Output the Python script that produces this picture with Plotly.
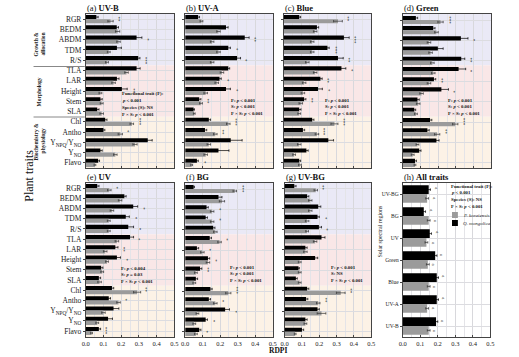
import plotly.graph_objects as go

W, H = 519, 357
def fx(x): return x / W
def fy(y): return 1 - y / H

traits = ["RGR", "BEDM", "ABDM", "TDM", "R/S", "TLA", "LAR", "Height", "Stem", "SLA",
          "Chl", "Antho", "Y<sub>NPQ</sub>/Y<sub>NO</sub>", "Y<sub>NO</sub>", "Flavo"]
regions = ["UV-BG", "BG", "UV", "Green", "Blue", "UV-A", "UV-B"]
x_ticks = [0.0, 0.1, 0.2, 0.3, 0.4, 0.5]

# (a) UV-B
a_q = [0.06, 0.175, 0.287, 0.176, 0.296, 0.287, 0.176, 0.204, 0.083, 0.065, 0.11, 0.10, 0.35, 0.083, 0.07]
a_p = [0.14, 0.18, 0.185, 0.13, 0.12, 0.23, 0.157, 0.083, 0.09, 0.09, 0.26, 0.195, 0.278, 0.167, 0.052]
a_qe = [0.01, 0.01, 0.03, 0.025, 0.01, 0.02, 0.012, 0.03, 0.01, 0.01, 0.01, 0.008, 0.025, 0.01, 0.008]
a_pe = [0.015, 0.012, 0.01, 0.008, 0.008, 0.01, 0.01, 0.008, 0.008, 0.01, 0.01, 0.012, 0.012, 0.01, 0.005]
a_sig = ["**", "", "*", "", "***", "", "", "**", "", "", "***", "*", "", "", ""]
# (b) UV-A
b_q = [0.074, 0.233, 0.34, 0.246, 0.296, 0.246, 0.196, 0.233, 0.08, 0.048, 0.135, 0.113, 0.26, 0.19, 0.067]
b_p = [0.093, 0.19, 0.154, 0.19, 0.154, 0.21, 0.18, 0.117, 0.09, 0.052, 0.246, 0.172, 0.135, 0.117, 0.037]
b_qe = [0.008, 0.012, 0.025, 0.012, 0.02, 0.008, 0.01, 0.025, 0.01, 0.005, 0.01, 0.01, 0.065, 0.06, 0.008]
b_pe = [0.008, 0.01, 0.01, 0.01, 0.01, 0.01, 0.01, 0.01, 0.008, 0.005, 0.01, 0.01, 0.01, 0.01, 0.005]
b_sig = ["", "", "**", "*", "*", "", "*", "*", "**", "", "***", "**", "", "", "*"]
# (c) Blue
c_q = [0.089, 0.19, 0.344, 0.25, 0.31, 0.33, 0.21, 0.196, 0.117, 0.089, 0.163, 0.11, 0.255, 0.13, 0.089]
c_p = [0.31, 0.18, 0.163, 0.163, 0.135, 0.18, 0.117, 0.11, 0.098, 0.089, 0.29, 0.19, 0.089, 0.06, 0.093]
c_qe = [0.008, 0.01, 0.03, 0.01, 0.03, 0.025, 0.01, 0.025, 0.01, 0.01, 0.01, 0.01, 0.03, 0.01, 0.008]
c_pe = [0.025, 0.01, 0.01, 0.01, 0.01, 0.01, 0.01, 0.01, 0.01, 0.008, 0.02, 0.01, 0.01, 0.008, 0.008]
c_sig = ["**", "", "***", "***", "**", "*", "**", "*", "**", "", "***", "***", "", "", ""]
# (d) Green
d_q = [0.074, 0.172, 0.328, 0.198, 0.33, 0.315, 0.176, 0.218, 0.083, 0.065, 0.154, 0.139, 0.19, 0.093, 0.069]
d_p = [0.213, 0.19, 0.148, 0.157, 0.167, 0.172, 0.148, 0.106, 0.087, 0.074, 0.296, 0.194, 0.083, 0.056, 0.069]
d_qe = [0.01, 0.01, 0.04, 0.03, 0.02, 0.04, 0.01, 0.04, 0.01, 0.008, 0.01, 0.01, 0.015, 0.01, 0.008]
d_pe = [0.015, 0.01, 0.01, 0.01, 0.01, 0.01, 0.01, 0.01, 0.01, 0.008, 0.015, 0.015, 0.008, 0.008, 0.005]
d_sig = ["***", "", "*", "", "**", "*", "**", "*", "", "", "***", "**", "", "", ""]
# (e) UV
e_q = [0.065, 0.218, 0.268, 0.226, 0.24, 0.25, 0.167, 0.176, 0.087, 0.074, 0.148, 0.13, 0.157, 0.126, 0.074]
e_p = [0.133, 0.194, 0.148, 0.13, 0.13, 0.176, 0.11, 0.12, 0.093, 0.078, 0.29, 0.185, 0.10, 0.065, 0.033]
e_qe = [0.01, 0.01, 0.025, 0.02, 0.03, 0.02, 0.015, 0.02, 0.01, 0.01, 0.01, 0.01, 0.03, 0.025, 0.01]
e_pe = [0.01, 0.01, 0.01, 0.008, 0.008, 0.01, 0.01, 0.008, 0.008, 0.01, 0.02, 0.01, 0.01, 0.008, 0.005]
e_sig = ["*", "", "*", "*", "*", "*", "**", "*", "", "", "**", "*", "", "", "***"]
# (f) BG
f_q = [0.048, 0.19, 0.122, 0.117, 0.16, 0.14, 0.067, 0.13, 0.085, 0.061, 0.144, 0.135, 0.228, 0.117, 0.08]
f_p = [0.283, 0.21, 0.154, 0.154, 0.172, 0.196, 0.098, 0.13, 0.061, 0.052, 0.246, 0.172, 0.07, 0.052, 0.061]
f_qe = [0.005, 0.02, 0.01, 0.01, 0.01, 0.01, 0.01, 0.01, 0.01, 0.01, 0.01, 0.01, 0.025, 0.01, 0.01]
f_pe = [0.01, 0.015, 0.01, 0.01, 0.01, 0.01, 0.01, 0.01, 0.008, 0.008, 0.015, 0.01, 0.008, 0.008, 0.008]
f_sig = ["***", "", "*", "*", "", "*", "*", "*", "**", "", "***", "*", "*", "*", "*"]
# (g) UV-BG
g_q = [0.056, 0.13, 0.194, 0.19, 0.198, 0.213, 0.12, 0.176, 0.08, 0.065, 0.13, 0.124, 0.19, 0.12, 0.1]
g_p = [0.18, 0.148, 0.148, 0.13, 0.13, 0.176, 0.12, 0.087, 0.087, 0.087, 0.324, 0.194, 0.213, 0.12, 0.061]
g_qe = [0.01, 0.01, 0.015, 0.01, 0.015, 0.02, 0.01, 0.015, 0.005, 0.008, 0.01, 0.01, 0.01, 0.01, 0.01]
g_pe = [0.01, 0.01, 0.01, 0.01, 0.008, 0.01, 0.01, 0.008, 0.008, 0.008, 0.025, 0.01, 0.025, 0.008, 0.005]
g_sig = ["**", "", "", "*", "*", "", "", "", "", "", "**", "**", "", "", ""]
# (h) All traits
h_q = [0.148, 0.12, 0.154, 0.185, 0.194, 0.194, 0.19]
h_p = [0.139, 0.148, 0.135, 0.143, 0.148, 0.139, 0.148]
h_qe = [0.01, 0.01, 0.01, 0.01, 0.01, 0.01, 0.01]
h_pe = [0.008, 0.008, 0.008, 0.008, 0.008, 0.008, 0.008]
h_q_let = ["a", "a", "a", "a", "a", "a", "a"]
h_p_let = ["a", "a", "a", "a", "a", "a", "a"]

LT = "&lt;"
P001 = "<i>p</i> " + LT + " 0.001"
stats_full = ["Functional trait (F):", P001, "Species (S): NS", "F × S: " + P001]
def stats3(f, s):
    return ["F: " + f, "S: " + s, "F × S: " + P001]

panels = [
    dict(t="(a) <b>UV-B</b>", q=a_q, p=a_p, qe=a_qe, pe=a_pe, sig=a_sig, box=(83, 173, 14, 168),
         ylab=True, xlab=False, stat=stats_full, sp=(118, 94)),
    dict(t="(b) <b>UV-A</b>", q=b_q, p=b_p, qe=b_qe, pe=b_pe, sig=b_sig, box=(184, 273, 14, 168),
         ylab=False, xlab=False, stat=stats3(P001, P001), sp=(229, 100)),
    dict(t="(c) <b>Blue</b>", q=c_q, p=c_p, qe=c_qe, pe=c_pe, sig=c_sig, box=(284, 373, 14, 168),
         ylab=False, xlab=False, stat=stats3(P001, P001), sp=(324, 100)),
    dict(t="(d) <b>Green</b>", q=d_q, p=d_p, qe=d_qe, pe=d_pe, sig=d_sig, box=(405, 495, 14, 168),
         ylab=False, xlab=False, stat=stats3(P001, P001), sp=(449, 100)),
    dict(t="(e) <b>UV</b>", q=e_q, p=e_p, qe=e_qe, pe=e_pe, sig=e_sig, box=(83, 173, 183, 337),
         ylab=True, xlab=True, stat=stats3("<i>p</i> " + LT + " 0.004", "<i>p</i> = 0.03"), sp=(117, 268)),
    dict(t="(f) <b>BG</b>", q=f_q, p=f_p, qe=f_qe, pe=f_pe, sig=f_sig, box=(184, 273, 183, 337),
         ylab=False, xlab=True, stat=stats3(P001, P001), sp=(227, 267)),
    dict(t="(g) <b>UV-BG</b>", q=g_q, p=g_p, qe=g_qe, pe=g_pe, sig=g_sig, box=(285, 373, 183, 337),
         ylab=False, xlab=True, stat=stats3(P001, "NS"), sp=(330, 267)),
]

SERIF = "Liberation Serif"
BANDS = [("#EAE9F6", 10 / 15, 1.0), ("#F9E7E7", 5 / 15, 10 / 15), ("#FCF2E6", 0.0, 5 / 15)]
LINE_STEP = 6.8

fig = go.Figure()
shapes, annos = [], []

def add_stat_lines(lines, x0, y0):
    for j, ln in enumerate(lines):
        annos.append(dict(text="<b>" + ln + "</b>", x=fx(x0), y=fy(y0 + j * LINE_STEP), xref="paper",
                          yref="paper", xanchor="left", yanchor="middle", showarrow=False,
                          font=dict(family=SERIF, size=4.8, color="#111")))

def axis_common():
    return dict(showline=True, mirror=True, linecolor="#444", linewidth=0.8,
                ticks="outside", ticklen=2, tickwidth=0.6, tickcolor="#444",
                tickfont=dict(family=SERIF, size=6.5, color="#222"))

def add_panel(i, cats, q, p, qe, pe, box, ylab, xlab, ytick_size):
    sfx = "" if i == 1 else str(i)
    xa, ya = "x" + sfx, "y" + sfx
    fig.add_trace(go.Bar(y=cats, x=q, orientation="h", marker=dict(color="#000000", line=dict(width=0)),
                         error_x=dict(type="data", array=qe, color="#000", thickness=0.7, width=1.2),
                         xaxis=xa, yaxis=ya, showlegend=False, name="Q. mongolica"))
    fig.add_trace(go.Bar(y=cats, x=p, orientation="h", marker=dict(color="#9B9B9B", line=dict(width=0)),
                         error_x=dict(type="data", array=pe, color="#333", thickness=0.7, width=1.2),
                         xaxis=xa, yaxis=ya, showlegend=False, name="P. koraiensis"))
    l, r, t, b = box
    xd = axis_common()
    xd.update(domain=[fx(l), fx(r)], anchor=ya, range=[0, 0.5], tickvals=x_ticks,
              ticktext=["%.1f" % v for v in x_ticks], showticklabels=xlab, ticks="inside",
              showgrid=True, gridcolor="#D8D8DC", gridwidth=0.6, zeroline=False,
              minor=dict(tickvals=[0.05, 0.15, 0.25, 0.35, 0.45], showgrid=True,
                         gridcolor="#E4E4E8", gridwidth=0.4, ticks=""))
    yd = axis_common()
    yd.update(domain=[fy(b), fy(t)], anchor=xa, autorange="reversed", type="category",
              categoryorder="array", categoryarray=cats, showticklabels=ylab,
              showgrid=True, gridcolor="#DCDCE0", gridwidth=0.5)
    yd["tickfont"] = dict(family=SERIF, size=ytick_size, color="#222")
    fig.layout["xaxis" + sfx] = xd
    fig.layout["yaxis" + sfx] = yd
    return xa, ya

for i, pn in enumerate(panels, start=1):
    xa, ya = add_panel(i, traits, pn["q"], pn["p"], pn["qe"], pn["pe"], pn["box"], pn["ylab"], pn["xlab"], 7.5)
    for col, y0, y1 in BANDS:
        shapes.append(dict(type="rect", xref=xa + " domain", yref=ya + " domain", x0=0, x1=1, y0=y0, y1=y1,
                           fillcolor=col, line=dict(width=0), layer="below"))
    l, r, t, b = pn["box"]
    annos.append(dict(text=pn["t"], x=fx(l - 1), y=fy(t - 6), xref="paper", yref="paper",
                      xanchor="left", yanchor="middle", showarrow=False,
                      font=dict(family=SERIF, size=8.5, color="#111")))
    add_stat_lines(pn["stat"], pn["sp"][0], pn["sp"][1])
    for k, s in enumerate(pn["sig"]):
        if s:
            xe = max(pn["q"][k] + pn["qe"][k], pn["p"][k] + pn["pe"][k]) + 0.006
            annos.append(dict(text=s, x=xe, y=traits[k], xref=xa, yref=ya, xanchor="left",
                              yanchor="middle", showarrow=False, textangle=90,
                              font=dict(family=SERIF, size=5, color="#111")))

# panel h
xa, ya = add_panel(8, regions, h_q, h_p, h_qe, h_pe, (405, 494, 183, 337), True, True, 5.5)
annos.append(dict(text="(h) <b>All traits</b>", x=fx(404), y=fy(177), xref="paper", yref="paper",
                  xanchor="left", yanchor="middle", showarrow=False,
                  font=dict(family=SERIF, size=8.5, color="#111")))
add_stat_lines(stats_full, 452, 186)
for k in range(len(regions)):
    annos.append(dict(text=h_q_let[k], x=h_q[k] + h_qe[k] + 0.004, y=regions[k], xref=xa, yref=ya,
                      xanchor="left", yanchor="middle", yshift=5, showarrow=False, textangle=90,
                      font=dict(family=SERIF, size=5, color="#222")))
    annos.append(dict(text=h_p_let[k], x=h_p[k] + h_pe[k] + 0.004, y=regions[k], xref=xa, yref=ya,
                      xanchor="left", yanchor="middle", yshift=-5, showarrow=False, textangle=90,
                      font=dict(family=SERIF, size=5, color="#222")))
# manual legend in panel h
for (label, col, yc) in [("<i>P. koraiensis</i>", "#9B9B9B", 215), ("<i>Q. mongolica</i>", "#000000", 223)]:
    shapes.append(dict(type="rect", xref="paper", yref="paper", x0=fx(455), x1=fx(461),
                       y0=fy(yc + 3), y1=fy(yc - 3), fillcolor=col, line=dict(width=0)))
    annos.append(dict(text=label, x=fx(464), y=fy(yc), xref="paper", yref="paper", xanchor="left",
                      yanchor="middle", showarrow=False, font=dict(family=SERIF, size=5, color="#222")))

# group labels (rotated) and separators
for txt, xc, yc in [("Growth &amp;", 33, 44), ("allocation", 40, 44), ("Morphology", 36, 92),
                    ("Biochemistry &amp;", 33, 141), ("physiology", 40, 141)]:
    annos.append(dict(text="<b>" + txt + "</b>", x=fx(xc), y=fy(yc), xref="paper", yref="paper",
                      xanchor="center", yanchor="middle", textangle=-90,
                      showarrow=False, font=dict(family=SERIF, size=5.5, color="#222")))
for ys in [66.5, 117]:
    shapes.append(dict(type="line", xref="paper", yref="paper", x0=fx(30), x1=fx(82),
                       y0=fy(ys), y1=fy(ys), line=dict(color="#888", width=1)))

annos.append(dict(text="Plant traits", x=fx(16), y=fy(176), xref="paper", yref="paper", textangle=-90,
                  showarrow=False, font=dict(family=SERIF, size=12, color="#111")))
annos.append(dict(text="Solar spectral regions", x=fx(386), y=fy(260), xref="paper", yref="paper",
                  textangle=-90, showarrow=False, font=dict(family=SERIF, size=6, color="#222")))
annos.append(dict(text="<b>RDPI</b>", x=fx(278), y=fy(357), xref="paper", yref="paper",
                  xanchor="center", yanchor="bottom", showarrow=False,
                  font=dict(family=SERIF, size=7.5, color="#111")))

fig.update_layout(width=W, height=H, autosize=False, margin=dict(l=0, r=0, t=0, b=0),
                  paper_bgcolor="white", plot_bgcolor="white", barmode="group",
                  bargap=0.2, bargroupgap=0.0, shapes=shapes, annotations=annos, showlegend=False)
fig.write_html("out.html", config={"displayModeBar": False},
               post_script="document.documentElement.style.margin='0';document.body.style.margin='0';")
